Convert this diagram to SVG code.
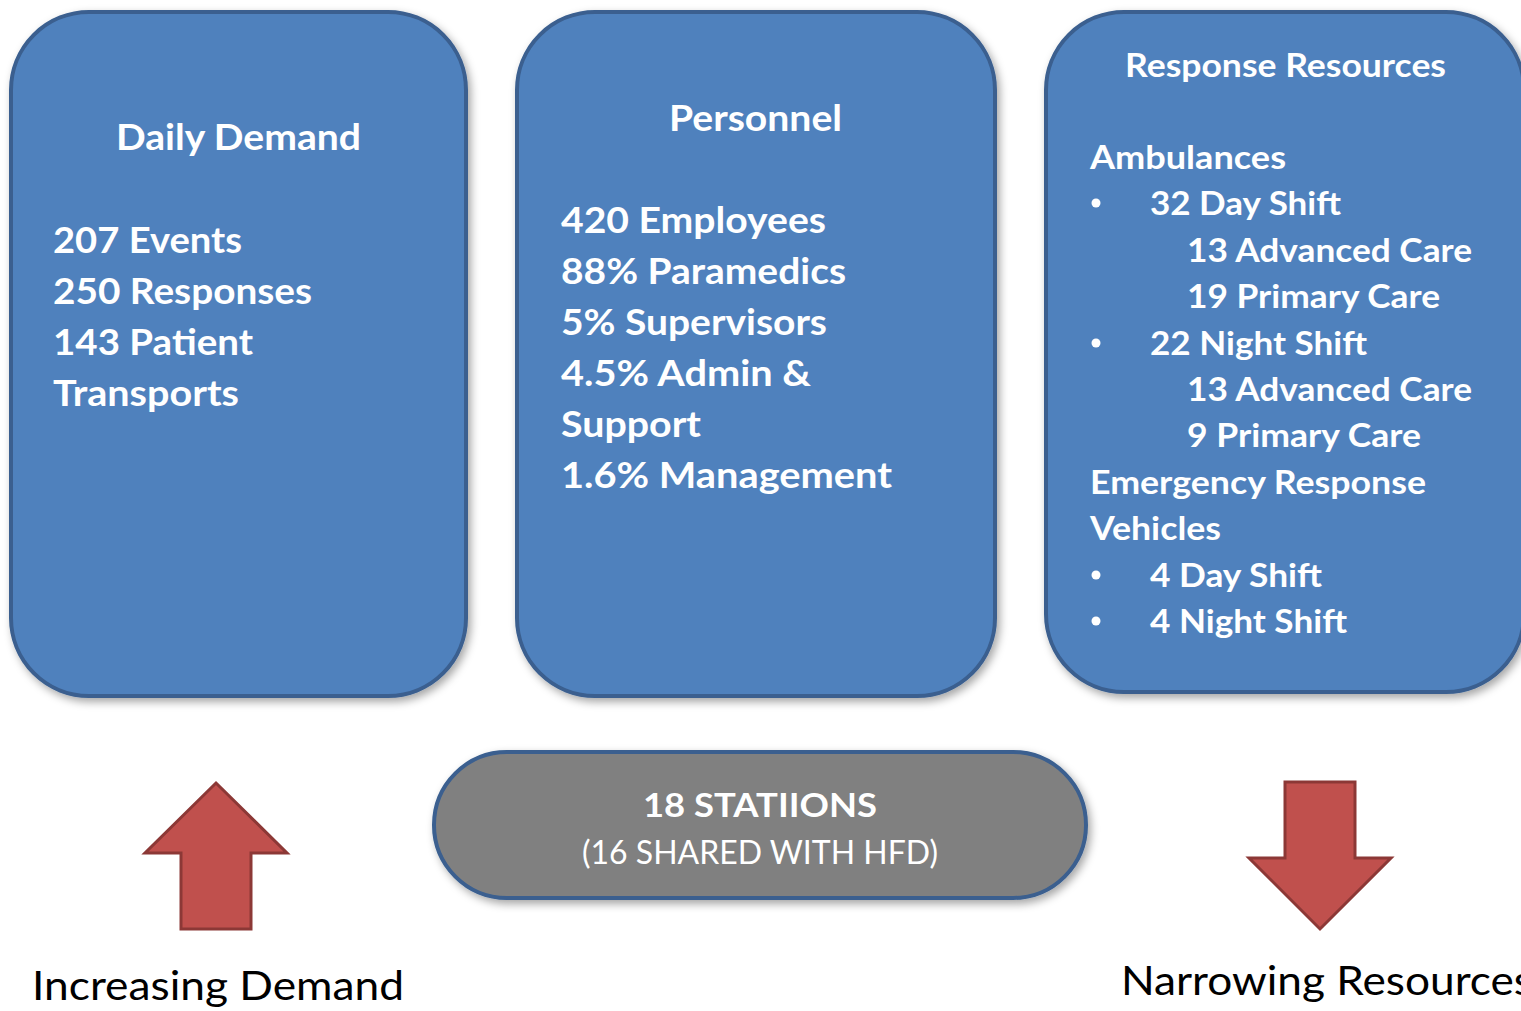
<svg xmlns="http://www.w3.org/2000/svg" width="1521" height="1011" viewBox="0 0 1521 1011">
<defs>
<filter id="sh" x="-10%" y="-10%" width="120%" height="120%">
<feDropShadow dx="3" dy="4" stdDeviation="4" flood-color="#000" flood-opacity="0.35"/>
</filter>
<style>
.box{fill:#4F81BD;stroke:#3A5F8F;stroke-width:4;filter:url(#sh)}
.pill{fill:#808080;stroke:#3A5F8F;stroke-width:4;filter:url(#sh)}
.arr{fill:#C0504D;stroke:#8C3836;stroke-width:3}
.t{font-family:Lato,"Open Sans","Liberation Sans",sans-serif;font-weight:bold;fill:#fff}
.h{font-size:36px}
.b{font-size:36px}
.s{font-size:32px}
.r{font-family:Lato,"Open Sans","Liberation Sans",sans-serif;fill:#fff;font-size:32px}
.k{font-family:Lato,"Open Sans","Liberation Sans",sans-serif;fill:#000;font-size:41px}
</style>
</defs>
<rect width="1521" height="1011" fill="#fff"/>
<g id="daily-demand">
<rect class="box" x="11" y="12" width="455" height="684" rx="78"/>
<text class="t h" x="116" y="150" textLength="245" lengthAdjust="spacingAndGlyphs">Daily Demand</text>
<text class="t b" x="53" y="253" textLength="189" lengthAdjust="spacingAndGlyphs">207 Events</text>
<text class="t b" x="53" y="304" textLength="259" lengthAdjust="spacingAndGlyphs">250 Responses</text>
<text class="t b" x="53" y="355" textLength="200" lengthAdjust="spacingAndGlyphs">143 Patient</text>
<text class="t b" x="53" y="406" textLength="186" lengthAdjust="spacingAndGlyphs">Transports</text>
</g>
<g id="personnel">
<rect class="box" x="517" y="12" width="478" height="684" rx="78"/>
<text class="t h" x="669" y="131" textLength="173" lengthAdjust="spacingAndGlyphs">Personnel</text>
<text class="t b" x="561" y="233" textLength="265" lengthAdjust="spacingAndGlyphs">420 Employees</text>
<text class="t b" x="561" y="284" textLength="285" lengthAdjust="spacingAndGlyphs">88% Paramedics</text>
<text class="t b" x="561" y="335" textLength="266" lengthAdjust="spacingAndGlyphs">5% Supervisors</text>
<text class="t b" x="561" y="386" textLength="250" lengthAdjust="spacingAndGlyphs">4.5% Admin &amp;</text>
<text class="t b" x="561" y="437" textLength="140" lengthAdjust="spacingAndGlyphs">Support</text>
<text class="t b" x="561" y="488" textLength="331" lengthAdjust="spacingAndGlyphs">1.6% Management</text>
</g>
<g id="response-resources">
<rect class="box" x="1046" y="12" width="478" height="680" rx="78"/>
<text class="t s" x="1125" y="77" textLength="321" lengthAdjust="spacingAndGlyphs">Response Resources</text>
<text class="t s" x="1090" y="169" textLength="196" lengthAdjust="spacingAndGlyphs">Ambulances</text>
<circle cx="1096" cy="203" r="4.5" fill="#fff"/>
<text class="t s" x="1150" y="215" textLength="191" lengthAdjust="spacingAndGlyphs">32 Day Shift</text>
<text class="t s" x="1187" y="262" textLength="285" lengthAdjust="spacingAndGlyphs">13 Advanced Care</text>
<text class="t s" x="1187" y="308" textLength="253" lengthAdjust="spacingAndGlyphs">19 Primary Care</text>
<circle cx="1096" cy="343" r="4.5" fill="#fff"/>
<text class="t s" x="1150" y="355" textLength="217" lengthAdjust="spacingAndGlyphs">22 Night Shift</text>
<text class="t s" x="1187" y="401" textLength="285" lengthAdjust="spacingAndGlyphs">13 Advanced Care</text>
<text class="t s" x="1187" y="447" textLength="234" lengthAdjust="spacingAndGlyphs">9 Primary Care</text>
<text class="t s" x="1090" y="494" textLength="336" lengthAdjust="spacingAndGlyphs">Emergency Response</text>
<text class="t s" x="1090" y="540" textLength="131" lengthAdjust="spacingAndGlyphs">Vehicles</text>
<circle cx="1096" cy="575" r="4.5" fill="#fff"/>
<text class="t s" x="1150" y="587" textLength="172" lengthAdjust="spacingAndGlyphs">4 Day Shift</text>
<circle cx="1096" cy="621" r="4.5" fill="#fff"/>
<text class="t s" x="1150" y="633" textLength="197" lengthAdjust="spacingAndGlyphs">4 Night Shift</text>
</g>
<g id="stations">
<rect class="pill" x="434" y="752" width="652" height="146" rx="73"/>
<text class="t s" x="643" y="817" textLength="234" lengthAdjust="spacingAndGlyphs">18 STATIIONS</text>
<text class="r" x="582" y="864" textLength="356" lengthAdjust="spacingAndGlyphs">(16 SHARED WITH HFD)</text>
</g>
<g id="increasing-demand">
<polygon class="arr" points="216,783 287,853 251,853 251,929 181,929 181,853 145,853"/>
<text class="k" x="32" y="1000" textLength="372" lengthAdjust="spacingAndGlyphs">Increasing Demand</text>
</g>
<g id="narrowing-resources">
<polygon class="arr" points="1285,782 1355,782 1355,858 1391,858 1320,929 1249,858 1285,858"/>
<text class="k" x="1121" y="995" textLength="412" lengthAdjust="spacingAndGlyphs">Narrowing Resources</text>
</g>
<g id="connectors"/>
</svg>
